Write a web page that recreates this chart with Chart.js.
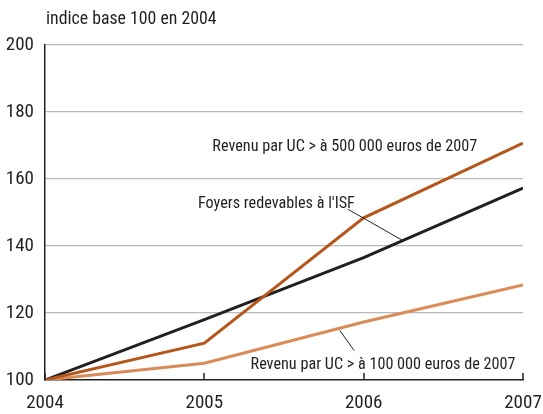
<!DOCTYPE html>
<html>
<head>
<meta charset="utf-8">
<script src="https://cdn.jsdelivr.net/npm/chart.js@4"></script>
<style>
html,body{margin:0;padding:0;background:#fff;}
#wrap{width:543px;height:414px;position:relative;}
</style>
</head>
<body>
<div id="wrap"><canvas id="c" width="543" height="414"></canvas></div>
<script>
const years = [2004, 2005, 2006, 2007];
const yTicks = [100, 120, 140, 160, 180, 200];
const seriesNames = [
  "Revenu par UC > à 500 000 euros de 2007",
  "Foyers redevables à l'ISF",
  "Revenu par UC > à 100 000 euros de 2007"
];
const revenu500k = [100, 111, 148.4, 170.7];
const foyersISF = [100, 118, 136.5, 157.3];
const revenu100k = [100, 105, 117.3, 128.4];
const titleText = "indice base 100 en 2004";

const FONT = "'Roboto Condensed', 'Liberation Sans', sans-serif";
const colors = ['#b5561a', '#231f20', '#d98b58'];

const toPts = arr => arr.map((v, i) => ({x: years[i], y: v}));

// Label placements (data coordinates), leader lines
const labels = [
  {text: seriesNames[0], x: 2005.05, y: 169.6, leader: null},
  {text: seriesNames[1], x: 2004.96, y: 152.5, leader: [[2005.9, 151], [2006.25, 141.5]]},
  {text: seriesNames[2], x: 2005.29, y: 104.6, leader: [[2005.85, 114.8], [2005.94, 108.8]]}
];

const annot = {
  id: 'annot',
  afterDatasetsDraw(chart) {
    const ctx = chart.ctx, xs = chart.scales.x, ys = chart.scales.y;
    ctx.save();
    // x-axis inner tick marks
    ctx.strokeStyle = '#231f20';
    ctx.lineWidth = 1.5;
    years.forEach(yr => {
      const px = Math.round(xs.getPixelForValue(yr));
      ctx.beginPath();
      ctx.moveTo(px, ys.bottom);
      ctx.lineTo(px, ys.bottom - 7);
      ctx.stroke();
    });
    // labels
    ctx.fillStyle = '#231f20';
    ctx.font = '16.2px ' + FONT;
    ctx.textBaseline = 'middle';
    ctx.textAlign = 'left';
    labels.forEach(l => {
      ctx.fillText(l.text, xs.getPixelForValue(l.x), ys.getPixelForValue(l.y));
      if (l.leader) {
        ctx.lineWidth = 1;
        ctx.beginPath();
        ctx.moveTo(xs.getPixelForValue(l.leader[0][0]), ys.getPixelForValue(l.leader[0][1]));
        ctx.lineTo(xs.getPixelForValue(l.leader[1][0]), ys.getPixelForValue(l.leader[1][1]));
        ctx.stroke();
      }
    });
    // title
    ctx.font = '17.8px ' + FONT;
    ctx.fillText(titleText, 46, 20);
    ctx.restore();
  }
};

new Chart(document.getElementById('c'), {
  type: 'line',
  data: {
    datasets: [
      {label: seriesNames[0], data: toPts(revenu500k), borderColor: colors[0]},
      {label: seriesNames[1], data: toPts(foyersISF), borderColor: colors[1]},
      {label: seriesNames[2], data: toPts(revenu100k), borderColor: colors[2]}
    ].map(d => Object.assign(d, {borderWidth: 3, pointRadius: 0, tension: 0, fill: false}))
  },
  options: {
    responsive: false,
    animation: false,
    layout: {padding: {top: 45, right: 20, left: 0, bottom: 0}},
    plugins: {legend: {display: false}, tooltip: {enabled: false}},
    scales: {
      x: {
        type: 'linear', min: years[0], max: years[years.length - 1],
        afterBuildTicks: s => { s.ticks = years.map(v => ({value: v})); },
        ticks: {color: '#231f20', font: {family: FONT, size: 19}, padding: 12, maxRotation: 0,
          callback: v => String(v)},
        grid: {display: false, drawTicks: false},
        border: {display: true, color: '#231f20', width: 1.5},
        afterFit: s => { s.height = 34; s.paddingLeft = 0; s.paddingRight = 0; }
      },
      y: {
        min: 100, max: 200,
        afterBuildTicks: s => { s.ticks = yTicks.map(v => ({value: v})); },
        ticks: {color: '#231f20', font: {family: FONT, size: 19}, padding: 11},
        grid: {color: ctx => ctx.tick && ctx.tick.value === 100 ? 'rgba(0,0,0,0)' : '#b9b9bb', lineWidth: 1.2, drawTicks: false},
        border: {display: true, color: '#231f20', width: 1.5},
        afterFit: s => { s.width = 45; s.paddingTop = 0; s.paddingBottom = 0; }
      }
    }
  },
  plugins: [annot]
});
</script>
</body>
</html>
